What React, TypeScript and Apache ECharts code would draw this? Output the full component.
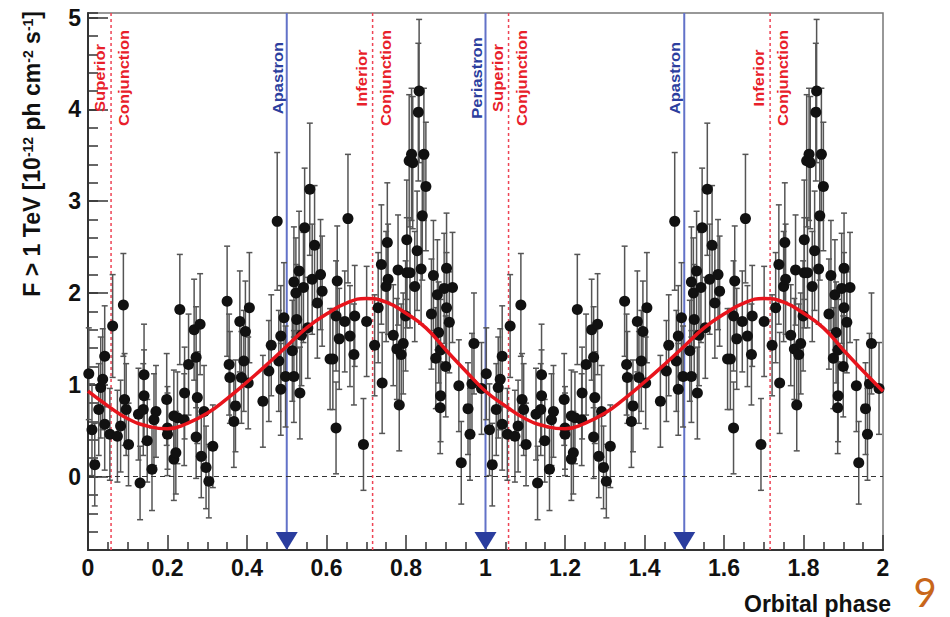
import React, { useEffect, useRef } from "react";
import * as echarts from "echarts";

// One orbital cycle of measured points: [phase, flux (1e-12 ph cm^-2 s^-1), error]
const fluxPoints: number[][] = [
  [0.002, 1.12, 0.5], [0.01, 0.51, 0.5], [0.017, 0.13, 0.45], [0.027, 0.73, 0.5],
  [0.032, 0.97, 0.55], [0.037, 1.06, 0.55], [0.042, 1.31, 0.55], [0.042, 0.57, 0.5],
  [0.055, 0.46, 0.5], [0.062, 1.64, 0.56], [0.074, 0.44, 0.5], [0.082, 0.55, 0.5],
  [0.089, 1.87, 0.56], [0.092, 0.84, 0.5], [0.096, 0.73, 0.5], [0.102, 0.35, 0.45],
  [0.127, 0.68, 0.5], [0.131, -0.07, 0.4], [0.139, 0.73, 0.5], [0.141, 1.11, 0.55],
  [0.141, 0.88, 0.5], [0.149, 0.39, 0.45], [0.161, 0.08, 0.45], [0.166, 0.62, 0.5],
  [0.171, 0.71, 0.5], [0.198, 0.84, 0.5], [0.2, 0.53, 0.45], [0.2, 0.46, 0.45],
  [0.216, 0.66, 0.5], [0.216, 0.19, 0.45], [0.221, 0.26, 0.45], [0.225, 0.64, 0.5],
  [0.231, 1.82, 0.6], [0.242, 0.62, 0.5], [0.243, 0.91, 0.5], [0.253, 1.22, 0.55],
  [0.267, 1.6, 0.55], [0.272, 1.3, 0.55], [0.272, 0.43, 0.45], [0.275, 0.86, 0.5],
  [0.282, 1.66, 0.55], [0.285, 0.22, 0.45], [0.292, 0.71, 0.5], [0.297, 0.1, 0.45],
  [0.304, -0.05, 0.4], [0.314, 0.33, 0.45], [0.35, 1.91, 0.6], [0.355, 1.22, 0.55],
  [0.357, 1.08, 0.5], [0.367, 0.6, 0.5], [0.371, 0.77, 0.5], [0.382, 1.69, 0.55],
  [0.386, 1.08, 0.5], [0.392, 1.26, 0.55], [0.396, 1.58, 0.55], [0.403, 1.02, 0.5],
  [0.406, 1.84, 0.6], [0.44, 0.82, 0.5], [0.455, 1.15, 0.55], [0.461, 1.43, 0.55],
  [0.476, 2.78, 0.75], [0.48, 1.26, 0.55], [0.485, 1.53, 0.55], [0.485, 0.95, 0.5],
  [0.493, 1.73, 0.6], [0.497, 1.09, 0.55], [0.514, 1.37, 0.55], [0.518, 1.09, 0.5],
  [0.518, 2.12, 0.6], [0.523, 2.0, 0.6], [0.525, 1.71, 0.6], [0.531, 2.24, 0.65],
  [0.533, 0.91, 0.5], [0.537, 1.54, 0.55], [0.542, 2.06, 0.6], [0.545, 2.71, 0.65],
  [0.553, 1.62, 0.55], [0.558, 3.13, 0.72], [0.564, 2.15, 0.6], [0.57, 2.52, 0.65],
  [0.577, 1.89, 0.6], [0.585, 2.2, 0.6], [0.589, 2.02, 0.6], [0.609, 1.28, 0.55],
  [0.616, 1.28, 0.55], [0.624, 1.75, 0.6], [0.624, 0.53, 0.5], [0.627, 2.13, 0.6],
  [0.632, 1.5, 0.55], [0.646, 1.69, 0.55], [0.654, 2.81, 0.7], [0.659, 1.53, 0.55],
  [0.669, 1.33, 0.55], [0.671, 1.75, 0.55], [0.693, 0.35, 0.5], [0.701, 1.69, 0.6],
  [0.721, 1.43, 0.55], [0.73, 1.84, 0.6], [0.738, 2.31, 0.65], [0.74, 1.02, 0.55],
  [0.75, 2.07, 0.6], [0.753, 2.55, 0.65], [0.755, 2.15, 0.6], [0.768, 1.54, 0.55],
  [0.777, 1.39, 0.55], [0.78, 2.25, 0.6], [0.783, 0.78, 0.5], [0.788, 1.33, 0.55],
  [0.793, 1.45, 0.55], [0.799, 1.75, 0.6], [0.802, 2.58, 0.65], [0.802, 2.22, 0.6],
  [0.808, 3.44, 0.72], [0.81, 2.22, 0.6], [0.814, 3.51, 0.72], [0.817, 3.42, 0.72],
  [0.822, 2.07, 0.6], [0.828, 2.46, 0.65], [0.831, 3.97, 0.75], [0.833, 4.2, 0.78],
  [0.838, 2.26, 0.6], [0.841, 2.84, 0.7], [0.845, 3.51, 0.72], [0.85, 3.16, 0.7],
  [0.864, 1.77, 0.6], [0.869, 2.19, 0.6], [0.875, 1.29, 0.55], [0.879, 1.98, 0.6],
  [0.882, 1.57, 0.55], [0.886, 0.75, 0.5], [0.887, 1.38, 0.55], [0.887, 0.88, 0.5],
  [0.896, 2.05, 0.6], [0.9, 1.2, 0.55], [0.902, 2.27, 0.6], [0.902, 1.84, 0.6],
  [0.909, 1.68, 0.55], [0.917, 2.06, 0.6], [0.933, 0.99, 0.5], [0.939, 0.15, 0.45],
  [0.956, 0.74, 0.5], [0.961, 0.46, 0.5], [0.966, 1.01, 0.55], [0.971, 1.45, 0.55],
  [0.99, 0.96, 0.5],
];

// Cycles shown on the axis (the folded light curve is drawn twice)
const cycles = [0, 1];

// Fitted sinusoid
const curvePhase = [0, 0.05, 0.1, 0.15, 0.2, 0.25, 0.3, 0.35, 0.4, 0.45, 0.5,
  0.55, 0.6, 0.65, 0.7, 0.75, 0.8, 0.85, 0.9, 0.95, 1.0];
const curveFlux = [0.93, 0.77, 0.63, 0.55, 0.52, 0.58, 0.69, 0.85, 1.03, 1.22, 1.42,
  1.62, 1.77, 1.89, 1.94, 1.9, 1.78, 1.62, 1.38, 1.15, 0.93];

// Orbital markers
const markerPhases = [0.058, 0.5, 0.716, 1.0, 1.058, 1.5, 1.716];
const markerLabels = ["Superior\nConjunction", "Apastron", "Inferior\nConjunction", "Periastron",
  "Superior\nConjunction", "Apastron", "Inferior\nConjunction"];
const markerKinds = ["conj", "apsis", "conj", "apsis", "conj", "apsis", "conj"];

const xTickLabels = ["0", "0.2", "0.4", "0.6", "0.8", "1", "1.2", "1.4", "1.6", "1.8", "2"];
const yTickLabels = ["0", "1", "2", "3", "4", "5"];

const FONT = "Liberation Sans, Arial, Helvetica, sans-serif";

export default function App() {
  const ref = useRef<HTMLDivElement>(null);
  useEffect(() => {
    if (!ref.current) return;
    const chart = echarts.init(ref.current, null, { renderer: "svg" });

    const points: number[][] = [];
    cycles.forEach((c) => fluxPoints.forEach((p) => points.push([p[0] + c, p[1], p[2]])));
    const curve: number[][] = [];
    cycles.forEach((c, ci) =>
      curvePhase.forEach((p, i) => {
        if (ci > 0 && i === 0) return;
        curve.push([p + c, curveFlux[i]]);
      })
    );
    const yMajor = yTickLabels.map(Number);

    const option: any = {
      animation: false,
      grid: {
        left: 88, right: 67, top: 13, bottom: 67,
        show: true, borderColor: "#777", borderWidth: 1.5,
      },
      xAxis: {
        type: "value", min: 0, max: 2, interval: 0.2,
        axisLine: { onZero: false, lineStyle: { color: "#333", width: 2 } },
        axisTick: { inside: true, length: 15, lineStyle: { color: "#333", width: 1.5 } },
        minorTick: { show: true, splitNumber: 4, length: 8, lineStyle: { color: "#333", width: 1.5 } },
        splitLine: { show: false },
        axisLabel: {
          formatter: (v: number) => {
            const i = Math.round(v / 0.2);
            return xTickLabels[i] ?? "";
          },
          color: "#111", fontFamily: FONT, fontWeight: "bold", fontSize: 23, margin: 6,
        },
      },
      yAxis: [
        {
          type: "value", min: -0.8, max: 5.05, interval: 0.2,
          axisLine: { onZero: false, show: true, lineStyle: { color: "#333", width: 2 } },
          axisTick: { show: true, inside: true, length: 10, lineStyle: { color: "#333", width: 1.5 } },
          splitLine: { show: false },
          axisLabel: {
            formatter: (v: number) => {
              const r = Math.round(v);
              if (Math.abs(v - r) > 1e-6) return "";
              const i = yMajor.indexOf(r);
              return i >= 0 ? yTickLabels[i] : "";
            },
            color: "#111", fontFamily: FONT, fontWeight: "bold", fontSize: 23, margin: 7,
          },
        },
        {
          type: "value", min: -0.8, max: 5.05, position: "left", offset: 0,
          axisLine: { show: false, onZero: false },
          axisTick: { show: true, inside: true, length: 20, customValues: yMajor, lineStyle: { color: "#333", width: 1.5 } },
          axisLabel: { show: false },
          splitLine: { show: false },
        },
      ],
      graphic: [
        {
          type: "text", x: 32, y: 11, rotation: Math.PI / 2,
          style: {
            text: "F > 1 TeV [10{sup|-12} ph cm{sup|-2} s{sup|-1}]",
            align: "right", verticalAlign: "middle",
            textAlign: "right", textVerticalAlign: "middle",
            fill: "#111", font: `bold 23px ${FONT}`,
            rich: {
              sup: { fontSize: 14, fontWeight: "bold", fontFamily: FONT, verticalAlign: "top", fill: "#111" },
            },
          },
        },
        {
          type: "text", x: 891, y: 604,
          style: {
            text: "Orbital phase", align: "right", verticalAlign: "middle",
            textAlign: "right", textVerticalAlign: "middle",
            fill: "#111", font: `bold 23px ${FONT}`,
          },
        },
        {
          type: "text", x: 925, y: 592,
          style: {
            text: "9", align: "center", verticalAlign: "middle",
            textAlign: "center", textVerticalAlign: "middle",
            fill: "#c8661a", font: "normal 40px Lato, sans-serif",
          },
        },
      ],
      series: [
        {
          type: "custom",
          coordinateSystem: "cartesian2d",
          z: 1,
          silent: true,
          data: markerPhases.map((p) => [p, 0]),
          encode: { x: 0, y: 1 },
          renderItem: (params: any, api: any) => {
            const idx = params.dataIndex;
            const cs = params.coordSys;
            const x = api.coord([api.value(0), 0])[0];
            const top = cs.y;
            const bottom = cs.y + cs.height;
            const kind = markerKinds[idx];
            const children: any[] = [];
            if (kind === "apsis") {
              children.push({
                type: "line",
                shape: { x1: x, y1: top, x2: x, y2: bottom - 16 },
                style: { stroke: "#6272c8", lineWidth: 2 },
              });
              children.push({
                type: "polygon",
                shape: { points: [[x - 11, bottom - 18], [x + 11, bottom - 18], [x, bottom]] },
                style: { fill: "#2a3d9e" },
              });
              children.push({
                type: "text", x: x - 9, y: top + 65, rotation: Math.PI / 2, scaleX: 1.1,
                style: {
                  text: markerLabels[idx], fill: "#2c3e9e",
                  font: `bold 15px ${FONT}`,
                  align: "center", verticalAlign: "middle",
                },
              });
            } else {
              children.push({
                type: "line",
                shape: { x1: x, y1: top, x2: x, y2: bottom },
                style: { stroke: "#ee4455", lineWidth: 1.5, lineDash: [3, 3] },
              });
              children.push({
                type: "text", x: x + 1, y: top + 65, rotation: Math.PI / 2, scaleX: 1.1,
                style: {
                  text: markerLabels[idx], fill: "#e8202a",
                  font: `bold 15px ${FONT}`, lineHeight: 24,
                  align: "center", verticalAlign: "middle",
                },
              });
            }
            return { type: "group", children };
          },
          markLine: {
            silent: true, symbol: "none", label: { show: false },
            lineStyle: { type: [5, 4], color: "#333", width: 1.2 },
            data: [{ yAxis: 0 }],
          },
        },
        {
          type: "custom",
          coordinateSystem: "cartesian2d",
          z: 2,
          silent: true,
          data: points,
          encode: { x: 0, y: 1 },
          renderItem: (params: any, api: any) => {
            const x = api.value(0), y = api.value(1), e = api.value(2);
            const hi = api.coord([x, y + e]);
            const lo = api.coord([x, y - e]);
            const st = { stroke: "#555", lineWidth: 1.5 };
            return {
              type: "group",
              children: [
                { type: "line", shape: { x1: hi[0], y1: hi[1], x2: lo[0], y2: lo[1] }, style: st },
                { type: "line", shape: { x1: hi[0] - 3, y1: hi[1], x2: hi[0] + 3, y2: hi[1] }, style: st },
                { type: "line", shape: { x1: lo[0] - 3, y1: lo[1], x2: lo[0] + 3, y2: lo[1] }, style: st },
              ],
            };
          },
        },
        {
          type: "scatter",
          z: 3,
          silent: true,
          data: points.map((p) => [p[0], p[1]]),
          symbol: "circle",
          symbolSize: 11,
          itemStyle: { color: "#111", opacity: 1 },
        },
        {
          type: "line",
          z: 4,
          silent: true,
          data: curve,
          smooth: true,
          showSymbol: false,
          lineStyle: { color: "#e8141c", width: 3.5 },
        },
      ],
    };
    chart.setOption(option);
    return () => chart.dispose();
  }, []);
  return <div ref={ref} style={{ width: 950, height: 617, position: "absolute", left: 0, top: 0, background: "#fff" }} />;
}
